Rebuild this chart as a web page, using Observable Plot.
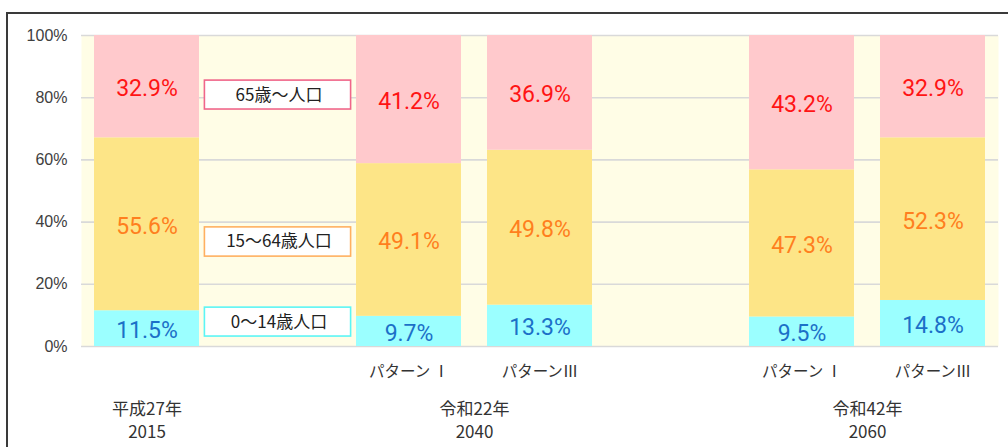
<!DOCTYPE html>
<html>
<head>
<meta charset="utf-8">
<script src="https://cdn.jsdelivr.net/npm/d3@7"></script>
<script src="https://cdn.jsdelivr.net/npm/@observablehq/plot@0.6"></script>
<style>
  html, body { margin: 0; padding: 0; background: white; }
  #wrap { position: relative; width: 1008px; height: 447px; overflow: hidden; }
  #border { position: absolute; left: 6px; top: 12px; width: 1010px; height: 450px;
            border-top: 2px solid #3a3a3a; border-left: 2px solid #3a3a3a; pointer-events: none; }
</style>
</head>
<body>
<div id="wrap"><div id="border"></div></div>
<script>
// ---- data ----
const slots = ["2015", "gapA", "2040I", "2040III", "gapB", "2060I", "2060III"];
const categories = ["2015", "2040I", "2040III", "2060I", "2060III"];
const young   = [11.5,  9.7, 13.3,  9.5, 14.8];
const working = [55.6, 49.1, 49.8, 47.3, 52.3];
const elderly = [32.9, 41.2, 36.9, 43.2, 32.9];
const groups = ["0～14歳人口", "15～64歳人口", "65歳～人口"];
const groupFill  = ["#9BFFFF", "#FDE587", "#FFC9CC"];
const groupText  = ["#1C70C8", "#FF7F1E", "#FF1414"];
const groupEdge  = ["#5CF5F5", "#FFB060", "#F0668A"];
const patternLabels = ["", "パターン Ⅰ", "パターンⅢ", "パターン Ⅰ", "パターンⅢ"];
const eraLabels = ["平成27年\n2015", "令和22年\n2040", "令和42年\n2060"];
const eraFirst  = ["2015", "2040I", "2060I"];
const eraSpan   = [1, 2, 2];
const yTicks = [0, 20, 40, 60, 80, 100];

// ---- table built from arrays ----
const seriesValues = [young, working, elderly];
const rows = [];
categories.forEach((c, i) => {
  groups.forEach((g, j) => rows.push({cat: c, group: g, gi: j, value: seriesValues[j][i]}));
});
const patternRows = categories.map((c, i) => ({cat: c, label: patternLabels[i]}));
const eraRows = eraLabels.map((l, i) => ({cat: eraFirst[i], label: l, span: eraSpan[i]}));

const W = 1008, H = 447, mL = 81, mR = 10, mT = 35, mB = 101;
const step = (W - mL - mR) / slots.length;

// legend boxes (annotation placement in y units)
const legendRows = [
  {label: groups[2], gi: 2, y1: 76.2, y2: 85.5},
  {label: groups[1], gi: 1, y1: 28.9, y2: 38.3},
  {label: groups[0], gi: 0, y1: 3.2,  y2: 12.5}
];

const jp = "'Noto Sans CJK JP', 'Noto Sans', sans-serif";
const pctFont = "Roboto, 'Liberation Sans', sans-serif";

const chart = Plot.plot({
  width: W, height: H,
  marginLeft: mL, marginRight: mR, marginTop: mT, marginBottom: mB,
  style: {background: "transparent", fontFamily: "'Liberation Sans', Arial, sans-serif"},
  x: {domain: slots, paddingInner: 0.2, paddingOuter: 0.1, axis: null},
  y: {domain: [0, 100], axis: null},
  marks: [
    Plot.frame({fill: "#FFFDE6", stroke: null}),
    Plot.gridY(yTicks, {stroke: "#D9D9D9", strokeOpacity: 1, strokeWidth: 1.6}),
    Plot.axisY(yTicks, {tickSize: 0, tickPadding: 14, tickFormat: d => d + "%",
      fontSize: 16, fill: "#404040", fontFamily: "'Liberation Sans', Arial, sans-serif"}),
    Plot.barY(rows, Plot.stackY({x: "cat", y: "value", z: "gi", order: null,
      fill: d => groupFill[d.gi]})),
    Plot.text(rows, Plot.stackY({x: "cat", y: "value", z: "gi", order: null,
      text: d => d.value.toFixed(1) + "%", fill: d => groupText[d.gi],
      fontSize: 23, fontFamily: pctFont, dy: 2})),
    Plot.barY(legendRows, {x: () => "gapA", y1: "y1", y2: "y2", fill: "white",
      stroke: d => groupEdge[d.gi], strokeWidth: 1.6, insetLeft: -20.6, insetRight: -20.6}),
    Plot.text(legendRows, {x: () => "gapA", y: d => (d.y1 + d.y2) / 2, text: "label",
      fontSize: 17, fill: "#222", fontFamily: jp, dx: 1}),
    Plot.text(patternRows, {x: "cat", y: () => 0, text: "label", dy: 26,
      fontSize: 15.5, fill: "#333", fontFamily: jp, lineAnchor: "middle"}),
    Plot.text(eraRows, {x: "cat", y: () => 0, text: "label", dy: 73,
      dx: 0, fontSize: 17, lineHeight: 1.35, fill: "#333", fontFamily: jp, lineAnchor: "middle",
      render(index, scales, values, dims, ctx, next) {
        const g = next(index, scales, values, dims, ctx);
        d3.select(g).selectAll("text").each(function(_, k) {
          const i = index[k];
          const shift = (eraRows[i].span - 1) * step / 2;
          const t = d3.select(this);
          const tr = t.attr("transform");
          t.attr("transform", (tr ? tr + " " : "") + `translate(${shift},0)`);
        });
        return g;
      }})
  ]
});
document.getElementById("wrap").insertBefore(chart, document.getElementById("border"));
</script>
</body>
</html>
